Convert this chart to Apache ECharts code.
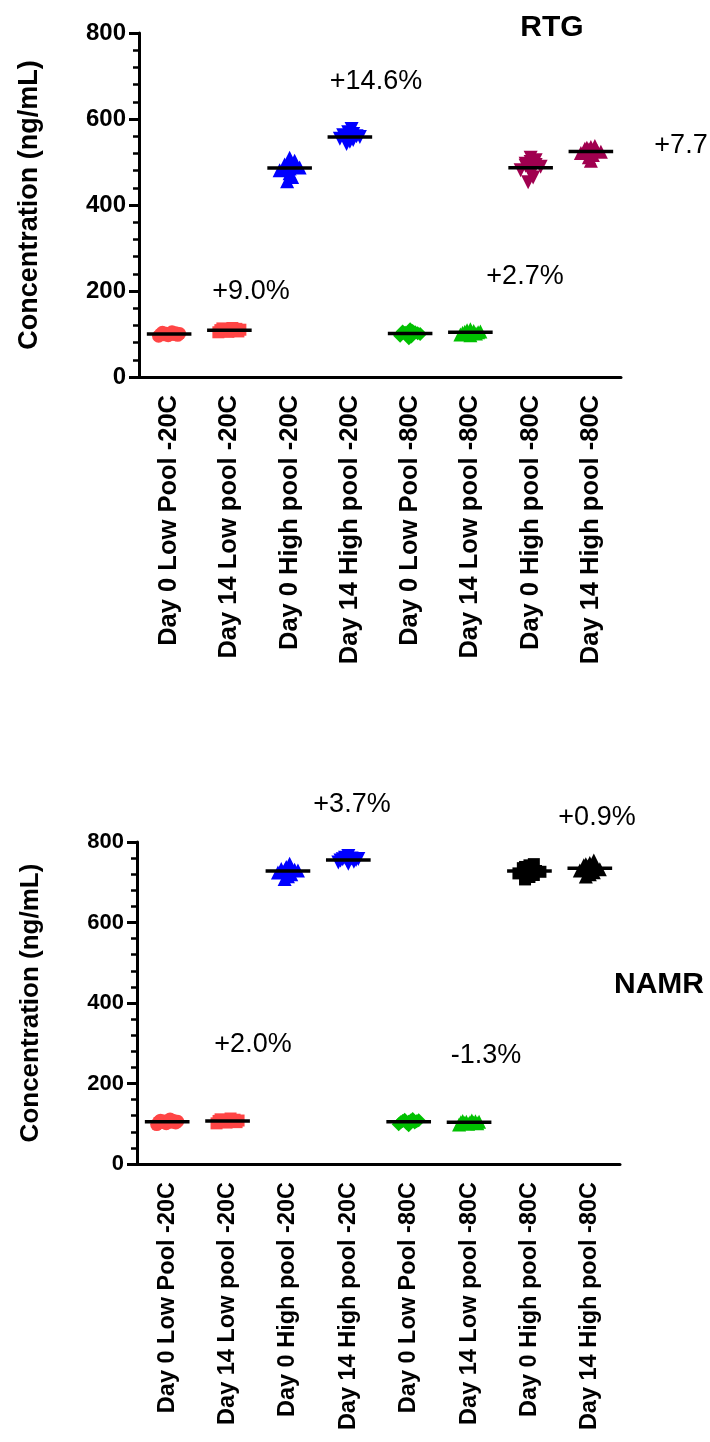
<!DOCTYPE html>
<html>
<head>
<meta charset="utf-8">
<script src="https://cdn.jsdelivr.net/npm/echarts@6/dist/echarts.min.js"></script>
<style>
html,body{margin:0;padding:0;background:#fff;}
#c{width:710px;height:1442px;}
</style>
</head>
<body>
<div id="c"></div>
<script>
// ---------- data ----------
const categories = [
  'Day 0 Low Pool -20C', 'Day 14 Low pool -20C', 'Day 0 High pool -20C', 'Day 14 High pool -20C',
  'Day 0 Low Pool -80C', 'Day 14 Low pool -80C', 'Day 0 High pool -80C', 'Day 14 High pool -80C'
];
const yTicks = [0, 200, 400, 600, 800];

// RTG replicates (ng/mL)
const rtgD0LowM20  = [95, 96, 97, 98, 99, 100, 100, 101, 102, 103, 104, 105];
const rtgD14LowM20 = [104, 105, 106, 107, 108, 109, 109, 110, 111, 112, 113, 114];
const rtgD0HighM20 = [455, 465, 474, 481, 485, 487, 489, 491, 494, 498, 503, 510];
const rtgD14HighM20= [542, 547, 551, 554, 556, 558, 559, 560, 562, 565, 569, 577];
const rtgD0LowM80  = [90, 94, 96, 98, 100, 101, 102, 103, 104, 106, 107, 111];
const rtgD14LowM80 = [97, 99, 101, 102, 103, 104, 104, 105, 106, 107, 109, 111];
const rtgD0HighM80 = [453, 464, 473, 481, 486, 489, 491, 493, 496, 500, 504, 510];
const rtgD14HighM80= [503, 511, 516, 521, 524, 526, 527, 529, 531, 533, 535, 537];

// NAMR replicates (ng/mL)
const namrD0LowM20  = [98, 100, 102, 103, 104, 105, 106, 106, 107, 108, 109, 112];
const namrD14LowM20 = [101, 103, 104, 105, 106, 107, 107, 108, 109, 110, 111, 113];
const namrD0HighM20 = [708, 715, 720, 724, 727, 729, 730, 731, 733, 735, 738, 746];
const namrD14HighM20= [746, 749, 751, 753, 754, 755, 756, 757, 758, 759, 761, 765];
const namrD0LowM80  = [96, 99, 101, 103, 104, 105, 106, 107, 108, 109, 110, 112];
const namrD14LowM80 = [98, 100, 101, 102, 103, 104, 104, 105, 105, 106, 107, 108];
const namrD0HighM80 = [707, 713, 718, 722, 726, 728, 730, 732, 735, 738, 742, 745];
const namrD14HighM80= [714, 720, 725, 729, 732, 735, 737, 739, 742, 745, 748, 754];

const rtgGroups  = [rtgD0LowM20, rtgD14LowM20, rtgD0HighM20, rtgD14HighM20, rtgD0LowM80, rtgD14LowM80, rtgD0HighM80, rtgD14HighM80];
const namrGroups = [namrD0LowM20, namrD14LowM20, namrD0HighM20, namrD14HighM20, namrD0LowM80, namrD14LowM80, namrD0HighM80, namrD14HighM80];

const rtgColors  = ['#FF4545', '#FF4545', '#0000FF', '#0000FF', '#00C000', '#00C000', '#A0004F', '#A0004F'];
const namrColors = ['#FF4545', '#FF4545', '#0000FF', '#0000FF', '#00C000', '#00C000', '#000000', '#000000'];
const rtgSymbols  = ['circle', 'rect', 'triangle', 'triangleDown', 'diamond', 'triangle', 'triangleDown', 'triangle'];
const namrSymbols = ['circle', 'rect', 'triangle', 'triangleDown', 'diamond', 'triangle', 'rect', 'triangle'];

const rtgNotes  = [['+14.6%', 376, 82], ['+9.0%', 251, 292], ['+2.7%', 525, 277], ['+7.7', 681, 146]];
const namrNotes = [['+3.7%', 352, 805], ['+0.9%', 597, 818], ['+2.0%', 253, 1045], ['-1.3%', 486, 1056]];

// ---------- layout ----------
const FONT = '"Liberation Sans", Arial, sans-serif';
const grids = [
  {left: 139, top: 33, width: 482, height: 344},
  {left: 137, top: 842, width: 483, height: 322}
];
const SIZE = {circle: 13, rect: 12, triangle: 14, triangleDown: 14, diamond: 14};

function mean(a){ return a.reduce((s, v) => s + v, 0) / a.length; }
function gcd(a, b){ return b ? gcd(b, a % b) : a; }

// simple deterministic swarm: bin by value, spread each bin horizontally
function swarm(vals, idx, grid, size){
  const binUnits = 6 * 800 / grid.height;
  const bandPx = grid.width / 8;
  const m = mean(vals);
  const bins = {};
  vals.forEach(v => { const b = Math.round((v - m) / binUnits); (bins[b] = bins[b] || []).push(v); });
  let kmax = 1;
  Object.keys(bins).forEach(b => { kmax = Math.max(kmax, bins[b].length); });
  const dxPx = kmax > 1 ? Math.min(9, (34 - size) / (kmax - 1)) : 0;
  const dxUnits = dxPx / bandPx;
  const out = [];
  Object.keys(bins).forEach(b => {
    const arr = bins[b].slice().sort((p, q) => p - q);
    const k = arr.length;
    let step = Math.max(1, Math.round(k * 0.4));
    while (k > 1 && gcd(step, k) !== 1) step++;
    arr.forEach((v, j) => {
      const pos = (j * step) % k;
      out.push([idx + (pos - (k - 1) / 2) * dxUnits, v]);
    });
  });
  return out;
}

const series = [];
function buildChart(groups, colors, symbols, gi){
  groups.forEach((vals, i) => {
    const down = symbols[i] === 'triangleDown';
    const size = SIZE[symbols[i]];
    series.push({
      type: 'scatter', xAxisIndex: gi * 2 + 1, yAxisIndex: gi,
      data: swarm(vals, i, grids[gi], size),
      symbol: down ? 'triangle' : symbols[i],
      symbolRotate: down ? 180 : 0,
      symbolSize: size,
      itemStyle: {color: colors[i], opacity: 1},
      silent: true, z: 2
    });
  });
  series.push({
    type: 'custom', xAxisIndex: gi * 2 + 1, yAxisIndex: gi,
    data: groups.map((vals, i) => [i, mean(vals)]),
    renderItem: function(params, api){
      const i = api.value(0), m = api.value(1);
      const p1 = api.coord([i - 0.37, m]);
      const p2 = api.coord([i + 0.37, m]);
      return {type: 'line', shape: {x1: p1[0], y1: p1[1], x2: p2[0], y2: p2[1]},
              style: {stroke: '#000', lineWidth: 3.5}};
    },
    z: 5, silent: true
  });
}
buildChart(rtgGroups, rtgColors, rtgSymbols, 0);
buildChart(namrGroups, namrColors, namrSymbols, 1);

function catAxis(gi, fs){
  return {
    type: 'category', gridIndex: gi, data: categories, position: 'bottom',
    axisLine: {onZero: false, lineStyle: {color: '#000', width: 3}},
    axisTick: {alignWithLabel: true, length: 10, lineStyle: {color: '#000', width: 3}},
    axisLabel: {rotate: 90, margin: 18, color: '#000', fontWeight: 'bold', fontSize: fs, fontFamily: FONT, interval: 0},
    splitLine: {show: false}
  };
}
function valXAxis(gi){
  return {type: 'value', gridIndex: gi, min: -0.5, max: 7.5, show: false};
}
function yAxis(gi, fs, nfs, gap){
  return {
    type: 'value', gridIndex: gi, min: 0, max: 800, interval: 200, position: 'left',
    name: 'Concentration (ng/mL)', nameLocation: 'middle', nameGap: gap,
    nameTextStyle: {color: '#000', fontWeight: 'bold', fontSize: nfs, fontFamily: FONT},
    axisLine: {show: true, onZero: false, lineStyle: {color: '#000', width: 3}},
    axisTick: {show: true, length: 10, lineStyle: {color: '#000', width: 3}},
    minorTick: {show: true, splitNumber: 5, length: 6, lineStyle: {color: '#000', width: 2.5}},
    axisLabel: {color: '#000', fontWeight: 'bold', fontSize: fs, fontFamily: FONT, margin: 13,
                formatter: v => (yTicks.indexOf(v) >= 0 ? String(v) : '')},
    splitLine: {show: false}
  };
}

const graphics = [];
function addText(t, x, y, fs, bold){
  graphics.push({type: 'text', x: x, y: y, silent: true,
    style: {text: t, fill: '#000', font: (bold ? 'bold ' : '') + fs + 'px ' + FONT,
            textAlign: 'center', textVerticalAlign: 'middle'}});
}
addText('RTG', 552, 28, 30, true);
addText('NAMR', 659, 985, 30, true);
rtgNotes.forEach(n => addText(n[0], n[1], n[2], 27, false));
namrNotes.forEach(n => addText(n[0], n[1], n[2], 27, false));

const chart = echarts.init(document.getElementById('c'), null, {renderer: 'canvas'});
chart.setOption({
  animation: false,
  backgroundColor: '#fff',
  grid: grids.map(g => Object.assign({containLabel: false}, g)),
  xAxis: [catAxis(0, 25.5), valXAxis(0), catAxis(1, 23.5), valXAxis(1)],
  yAxis: [yAxis(0, 24, 27, 96), yAxis(1, 22, 26, 93)],
  series: series,
  graphic: graphics
});
</script>
</body>
</html>
